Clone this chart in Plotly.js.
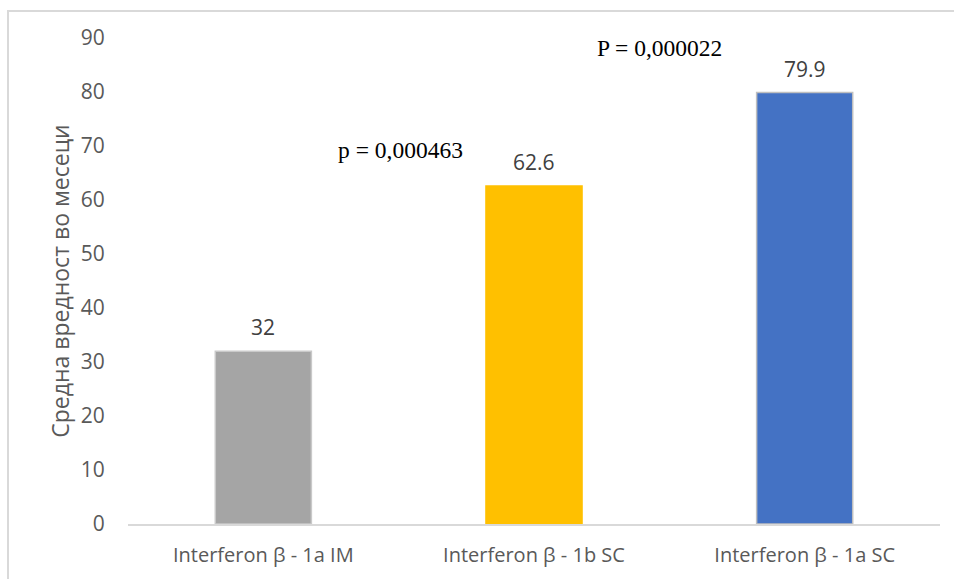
<!DOCTYPE html>
<html>
<head>
<meta charset="utf-8">
<script src="https://cdn.plot.ly/plotly-3.0.1.min.js"></script>
<style>
  html, body { margin: 0; padding: 0; background: #ffffff; }
  #chart { width: 954px; height: 579px; }
</style>
</head>
<body>
<div id="chart"></div>
<script>
// Mean duration (months) per interferon regimen
const categories = ['Interferon β - 1a IM', 'Interferon β - 1b SC', 'Interferon β - 1a SC'];
const meanMonths = [32, 62.6, 79.9];
const barColors = ['#a5a5a5', '#ffc000', '#4472c4'];
const barEdges = ['#c9c9c9', '#ffc000', '#bfbfbf'];
const pLabels = ['p = 0,000463', 'P = 0,000022'];

const trace = {
  type: 'bar',
  x: categories,
  y: meanMonths,
  width: 0.355,
  marker: { color: barColors, line: { color: barEdges, width: 1.5 } },
  hoverinfo: 'x+y'
};

// value labels above each bar
const valueNotes = categories.map((c, i) => ({
  x: c, y: meanMonths[i], xref: 'x', yref: 'y',
  text: String(meanMonths[i]), showarrow: false,
  yanchor: 'middle', yshift: 24,
  font: { family: 'Open Sans, sans-serif', size: 21, color: '#404040' }
}));

// significance notes
const pNotes = [
  { x: 0.335, y: 0.7695, text: pLabels[0] },
  { x: 0.655, y: 0.979, text: pLabels[1] }
].map(a => ({
  x: a.x, y: a.y, xref: 'paper', yref: 'paper', text: a.text,
  showarrow: false, xanchor: 'center', yanchor: 'middle',
  font: { family: 'Liberation Serif, Times New Roman, serif', size: 23.5, color: '#000000' }
}));

const layout = {
  width: 954, height: 579,
  margin: { l: 128, r: 14, t: 38, b: 55 },
  paper_bgcolor: '#ffffff', plot_bgcolor: '#ffffff',
  showlegend: false,
  xaxis: {
    type: 'category',
    showgrid: false, zeroline: false,
    showline: true, linecolor: '#d9d9d9', linewidth: 2,
    ticks: 'outside', ticklen: 12, tickcolor: 'rgba(0,0,0,0)',
    tickfont: { family: 'Open Sans, sans-serif', size: 20, color: '#595959' }
  },
  yaxis: {
    range: [0, 90], dtick: 10, tick0: 0,
    showgrid: false, zeroline: false, showline: false,
    ticks: 'outside', ticklen: 18, tickcolor: 'rgba(0,0,0,0)',
    tickfont: { family: 'Open Sans, sans-serif', size: 21, color: '#595959' },
    title: {
      text: 'Средна вредност во месеци',
      font: { family: 'Open Sans, sans-serif', size: 23, color: '#595959' },
      standoff: 4
    }
  },
  annotations: valueNotes.concat(pNotes),
  shapes: [{
    type: 'rect', xref: 'paper', yref: 'paper',
    x0: -0.1478, x1: 1.03, y0: -0.14, y1: 1.0556,
    line: { color: '#d9d9d9', width: 2 }, fillcolor: 'rgba(0,0,0,0)', layer: 'below'
  }]
};

Plotly.newPlot('chart', [trace], layout, { displayModeBar: false, staticPlot: true });
</script>
</body>
</html>
